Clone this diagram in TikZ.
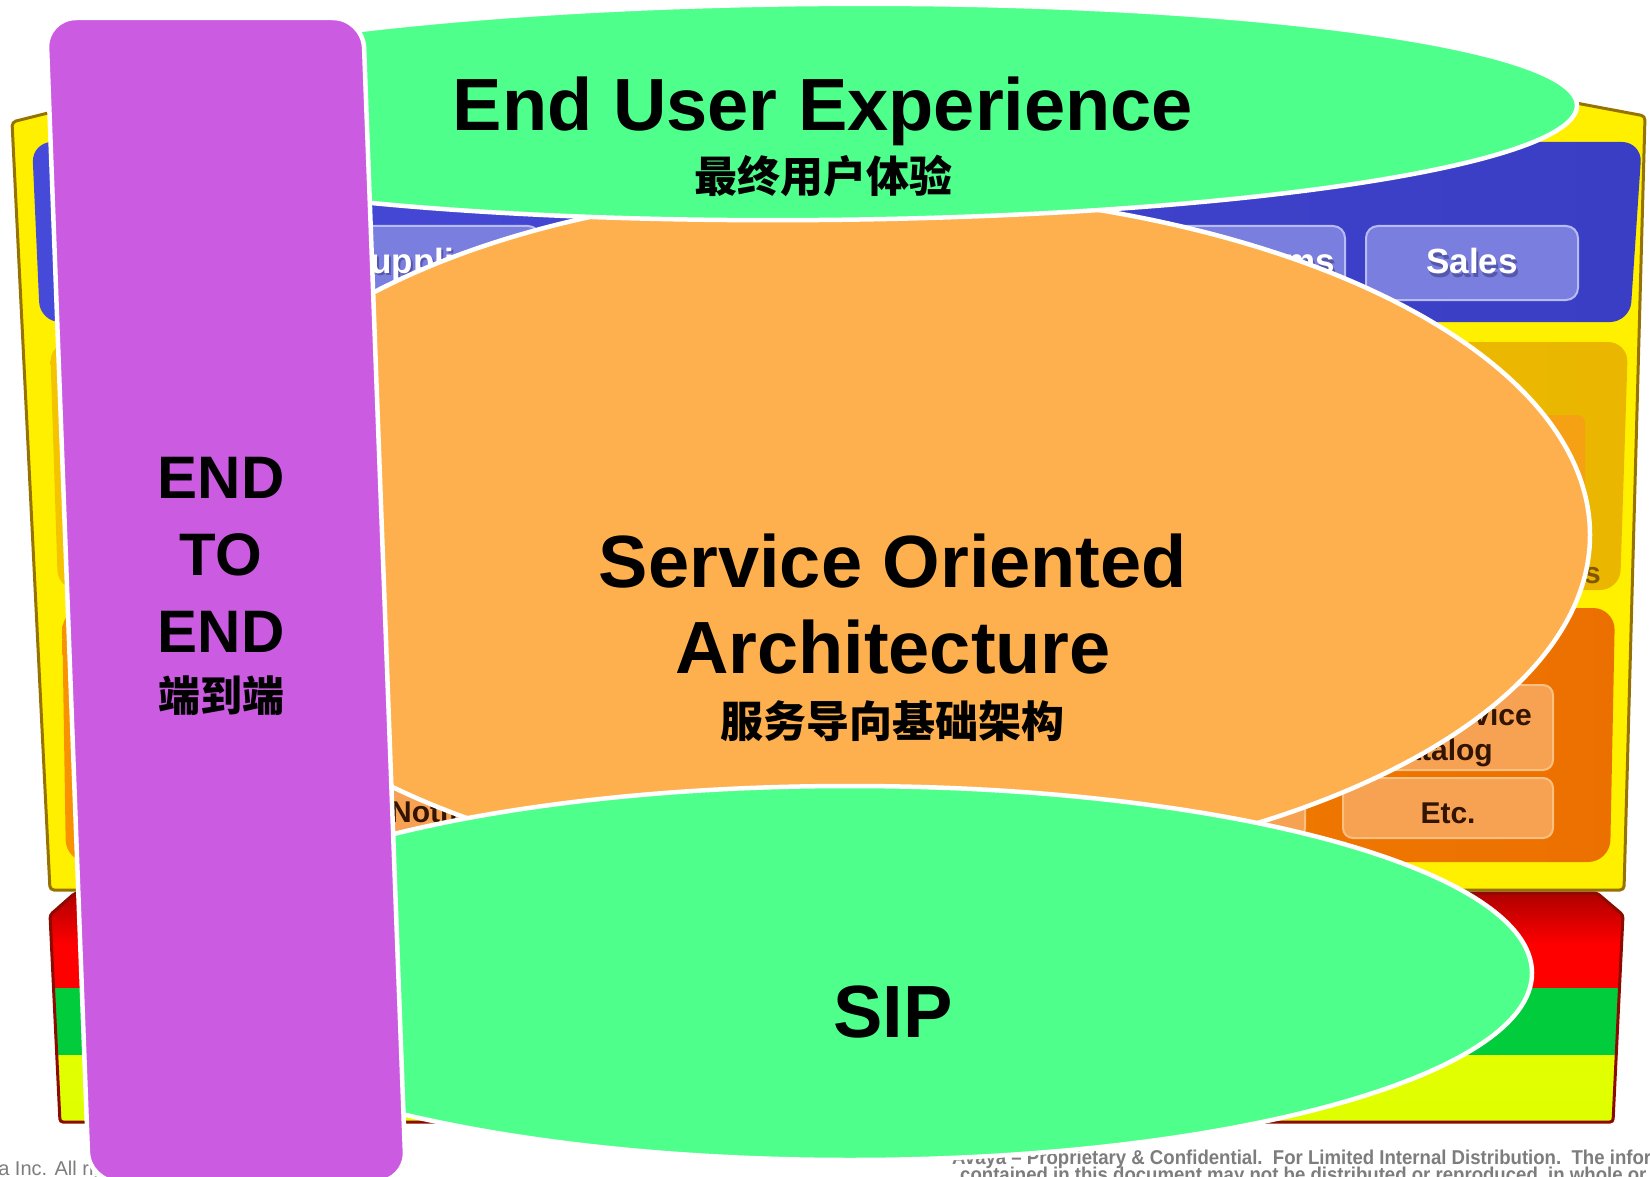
\documentclass[tikz,border=0pt]{standalone}
\usepackage{fontspec}
\setmainfont{Liberation Sans}
\newfontfamily\cjk{Noto Sans CJK SC}
\newfontfamily\narrowsans{Liberation Sans}[FakeStretch=0.93]

\definecolor{panelyellow}{RGB}{255,240,0}
\definecolor{paneledge}{RGB}{150,115,0}
\definecolor{bandblue}{RGB}{70,74,216}
\definecolor{bandbluedark}{RGB}{58,62,196}
\definecolor{btnblue}{RGB}{122,126,222}
\definecolor{btnblueedge}{RGB}{184,188,244}
\definecolor{goldgroup}{RGB}{244,196,0}
\definecolor{goldgroupdark}{RGB}{234,182,0}
\definecolor{goldbtn}{RGB}{246,160,20}
\definecolor{orangegroup}{RGB}{248,146,0}
\definecolor{orangegroupdark}{RGB}{236,112,0}
\definecolor{btnorange}{RGB}{246,162,82}
\definecolor{btnorangeedge}{RGB}{250,192,128}
\definecolor{btntext}{RGB}{50,20,0}
\definecolor{grouptext}{RGB}{130,85,0}
\definecolor{stackred}{RGB}{255,0,0}
\definecolor{stackreddark}{RGB}{175,0,0}
\definecolor{stackgreen}{RGB}{0,204,60}
\definecolor{stacklime}{RGB}{222,255,0}
\definecolor{stackedge}{RGB}{140,10,0}
\definecolor{eugreen}{RGB}{78,255,140}
\definecolor{soaorange}{RGB}{254,176,78}
\definecolor{e2epurple}{RGB}{203,92,226}
\definecolor{footgray}{RGB}{125,125,125}
\definecolor{shadowblue}{RGB}{40,40,110}

\tikzset{
  blob/.style={draw=white, line width=4.5pt},
  bluebtn/.style={fill=btnblue, draw=btnblueedge, line width=2pt, rounded corners=12pt},
  orangebtn/.style={fill=btnorange, draw=btnorangeedge, line width=2pt, rounded corners=10pt},
  btnlabel/.style={font=\bfseries\fontsize{35}{40}\selectfont, text=white, inner sep=0pt, anchor=base},
  btnshadow/.style={font=\bfseries\fontsize{35}{40}\selectfont, text=shadowblue, opacity=0.45, inner sep=0pt, anchor=base},
  oblabel/.style={font=\bfseries\fontsize{30}{34}\selectfont, text=btntext, inner sep=0pt, anchor=base},
  bigtext/.style={font=\bfseries\fontsize{74}{80}\selectfont, inner sep=0pt, anchor=base},
  e2etext/.style={font=\bfseries\fontsize{60}{66}\selectfont, inner sep=0pt, anchor=base},
  cjktext/.style={font=\cjk\bfseries\fontsize{43}{48}\selectfont, inner sep=0pt},
  foottext/.style={font=\narrowsans\bfseries\fontsize{20}{22}\selectfont, text=footgray, inner sep=0pt, anchor=base west},
}

\begin{document}
\begin{tikzpicture}[x=1pt, y=-1pt]
\useasboundingbox (0,0) rectangle (1650,1177);
\clip (0,0) rectangle (1650,1177);
\fill[white] (0,0) rectangle (1650,1177);

% ---------- background application map ----------
% outer yellow panel
\filldraw[fill=panelyellow, draw=paneledge, line width=3pt, rounded corners=4pt]
  (12,122) -- (60,110) -- (1560,100) -- (1645,116) -- (1624,890) -- (50,890) -- cycle;

% blue business band with its buttons
\shade[left color=bandblue, right color=bandbluedark, rounded corners=20pt]
  (32,142) -- (1642,142) -- (1630,322) -- (40,322) -- cycle;
\path[bluebtn] (320,226) rectangle (540,300);
\path[bluebtn] (1133,226) rectangle (1345,300);
\path[bluebtn] (1366,226) rectangle (1578,300);
\node[btnshadow] (supplsh) at (429,276) {Suppliers};
\node[btnlabel] (suppl) at (427,273) {Suppliers};
\node[btnshadow, anchor=base east] (systsh) at (1337,277) {Systems};
\node[btnlabel, anchor=base east] (syst) at (1335,274) {Systems};
\node[btnshadow] (salessh) at (1474,277) {Sales};
\node[btnlabel] (sales) at (1472,274) {Sales};

% gold service group
\shade[left color=goldgroup, right color=goldgroupdark, rounded corners=20pt]
  (50,342) -- (1628,342) -- (1620,590) -- (58,590) -- cycle;
\fill[goldbtn, rounded corners=8pt] (1440,415) rectangle (1585,505);
\node[oblabel, text=grouptext, anchor=base east] (services) at (1601,583) {Services};

% orange infrastructure group
\shade[left color=orangegroup, right color=orangegroupdark, rounded corners=22pt]
  (62,608) -- (1615,608) -- (1610,862) -- (66,862) -- cycle;
\path[orangebtn] (300,785) rectangle (560,845);
\path[orangebtn] (1100,778) rectangle (1305,838);
\path[orangebtn] (1343,685) rectangle (1553,770);
\path[orangebtn] (1343,778) rectangle (1553,838);
\node[oblabel, anchor=base west] (notif) at (390,822) {Notification};
\node[oblabel, anchor=base east] (catal1) at (1532,725) {Service};
\node[oblabel, anchor=base east] (catal2) at (1493,760) {Catalog};
\node[oblabel] (etc) at (1448,823) {Etc.};

% red / green / lime network stack
\begin{scope}
  \clip (50,915) -- (75,893) -- (1597,893) -- (1623,915) -- (1613,1122) -- (60,1122) -- cycle;
  \shade[top color=stackreddark, bottom color=stackred] (0,893) rectangle (1650,945);
  \fill[stackred] (0,944) rectangle (1650,988);
  \fill[stackgreen] (0,988) rectangle (1650,1055);
  \shade[top color=stacklime!85!yellow, bottom color=stacklime] (0,1055) rectangle (1650,1122);
\end{scope}
\draw[stackedge, line width=3pt, rounded corners=3pt]
  (50,915) -- (75,893) -- (1597,893) -- (1623,915) -- (1613,1122) -- (60,1122) -- cycle;

% footer
\node[foottext] (foot1) at (952,1164)
  {Avaya – Proprietary \& Confidential.\ \ For Limited Internal Distribution.\ \ The information};
\node[foottext] (foot2) at (960,1181)
  {contained in this document may not be distributed or reproduced, in whole or in part};
\node[font=\fontsize{20}{22}\selectfont, text=footgray, inner sep=0pt, anchor=base west]
  (copy) at (-46,1175) {Avaya Inc. All rights reserved.};

% ---------- overlay ----------
% service oriented architecture: egg shape, fuller towards the right
\path[blob, fill=soaorange] (850,190)
  arc[start angle=270, end angle=90, x radius=670, y radius=345]
  arc[start angle=90, end angle=-90, x radius=740, y radius=345] -- cycle;
% end user experience
\begin{scope}[shift={(819,112)}, rotate=0.5]
  \path[blob, fill=eugreen] (0,0) ellipse [x radius=758, y radius=108];
\end{scope}
% SIP
\path[blob, fill=eugreen] (850,973) ellipse [x radius=682, y radius=187];
% end to end bar, slanted with level top and bottom
\path[blob, fill=e2epurple, rounded corners=30pt]
  (46,18) -- (363,18) -- (406,1182) -- (89,1182) -- cycle;

% labels
\node[bigtext] (eux) at (823,131) {End User Experience};
\node[cjktext] (euxcn) at (823,176) {最终用户体验};
\node[bigtext] (soa1) at (893,587) {Service Oriented};
\node[bigtext] (soa2) at (893,673) {Architecture};
\node[cjktext] (soacn) at (892,721) {服务导向基础架构};
\node[bigtext] (sip) at (893,1037) {SIP};
\node[e2etext] (e2ea) at (221,498) {END};
\node[e2etext] (e2eb) at (221,575) {TO};
\node[e2etext] (e2ec) at (221,652) {END};
\node[cjktext, font=\cjk\bfseries\fontsize{42}{46}\selectfont] (e2ecn) at (221,696) {端到端};
\end{tikzpicture}
\end{document}
